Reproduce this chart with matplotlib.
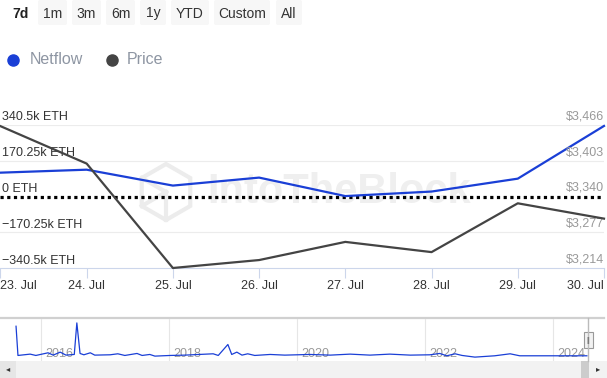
import numpy as np
import matplotlib
matplotlib.use('Agg')
import matplotlib.pyplot as plt
from matplotlib.patches import FancyBboxPatch, Rectangle, RegularPolygon

plt.rcParams['font.family'] = ['Liberation Sans', 'DejaVu Sans']

# 数据
days = ['23. Jul', '24. Jul', '25. Jul', '26. Jul', '27. Jul', '28. Jul', '29. Jul', '30. Jul']
netflow = [113500, 127700, 52000, 90000, 2000, 23600, 85000, 336000]
price = [3464, 3398, 3214, 3228, 3260, 3242, 3328, 3301]

flow_ticks = [-340500, -170250, 0, 170250, 340500]
flow_labels = ['\u2212340.5k ETH', '\u2212170.25k ETH', '0 ETH', '170.25k ETH', '340.5k ETH']
price_ticks = [3214, 3277, 3340, 3403, 3466]
price_labels = ['$3,214', '$3,277', '$3,340', '$3,403', '$3,466']

buttons = ['7d', '1m', '3m', '6m', '1y', 'YTD', 'Custom', 'All']

# 导航条（全历史）
nav_x = [2015.61, 2015.64, 2015.83, 2015.92, 2016.11, 2016.19, 2016.30, 2016.39, 2016.52, 2016.56,
         2016.61, 2016.67, 2016.77, 2016.84, 2017.08, 2017.20, 2017.31, 2017.50, 2017.58, 2017.70,
         2017.78, 2018.02, 2018.25, 2018.69, 2018.77, 2018.92, 2018.98, 2019.06, 2019.14, 2019.23,
         2019.34, 2019.58, 2019.81, 2020.20, 2020.52, 2020.83, 2021.14, 2021.45, 2021.77, 2022.08,
         2022.23, 2022.34, 2022.47, 2022.58, 2022.78, 2023.09, 2023.33, 2023.48, 2024.11, 2024.53]
nav_y = [90, 2, 6, 2, 10, 3, 12, 3, 5, 100,
         8, 4, 10, 3, 4, 7, 2, 8, 2, 5,
         0, 2, 3, 7, 2, 35, 5, 12, 3, 7,
         2, 5, 3, 5, 3, 6, 3, 6, 3, 4,
         8, 1, 7, 2, -3, 1, 7, 1, 1, 1]
nav_years = [2016, 2018, 2020, 2022, 2024]

W, H = 607, 378
fig = plt.figure(figsize=(W / 100, H / 100), dpi=100)


def box(l, t, r, b):
    return [l / W, 1 - b / H, (r - l) / W, (b - t) / H]


blue = '#1a3fd6'
dark = '#444444'

# 像素坐标的装饰层（按钮、图例、水印、滚动条）
deco = fig.add_axes([0, 0, 1, 1])
deco.set_xlim(0, W)
deco.set_ylim(H, 0)
deco.axis('off')

btn_pos = [(8, 34), (38, 67), (72, 101), (106, 135), (140, 166), (171, 209), (214, 270), (276, 302)]
for name, (l, r) in zip(buttons, btn_pos):
    if name != '7d':
        deco.add_patch(FancyBboxPatch((l, 0), r - l, 25, boxstyle='round,pad=0,rounding_size=2',
                                      fc='#f7f7f7', ec='none'))
    deco.text((l + r) / 2, 13.5, name, ha='center', va='center', fontsize=10,
              color='#222222' if name == '7d' else '#333333',
              fontweight='bold' if name == '7d' else 'normal')

# 图例
deco.plot([13], [60], 'o', ms=8, color=blue)
deco.text(30, 60, 'Netflow', fontsize=11.5, color='#8e96a3', va='center')
deco.plot([112], [60], 'o', ms=8, color=dark)
deco.text(127, 60, 'Price', fontsize=11.5, color='#8e96a3', va='center')

# 水印
deco.text(207, 192, 'IntoTheBlock', fontsize=30, fontweight='bold', color='#efefef',
          va='center', ha='left', zorder=0)
cx, cy, rr = 166, 192, 28
deco.add_patch(RegularPolygon((cx, cy), 6, radius=rr, fill=False, ec='#ececec', lw=3, orientation=0))
for ang in [np.pi / 2 + np.pi / 3, np.pi / 2 - np.pi / 3 + np.pi, np.pi / 2 + np.pi]:
    deco.plot([cx, cx + rr * np.cos(ang)], [cy, cy - rr * np.sin(ang)], color='#ececec', lw=3)

# 滚动条
deco.add_patch(Rectangle((0, 361), W, 17, fc='#f2f2f2', ec='none'))
deco.add_patch(Rectangle((0, 361), 16, 17, fc='#e6e6e6', ec='none'))
deco.add_patch(Rectangle((581, 361), 8, 17, fc='#cccccc', ec='none'))
deco.text(8, 369.5, '\u25c2', fontsize=6, color='#333333', ha='center', va='center')
deco.text(598, 369.5, '\u25b8', fontsize=6, color='#333333', ha='center', va='center')
deco.plot([0, 604], [318, 318], color='#d0d0d0', lw=1.6)

# 主图
ax = fig.add_axes(box(0, 125, 604, 268))
ax.patch.set_alpha(0)
x = np.arange(len(days))
ax.set_xlim(-0.005, 7)
ax.set_ylim(flow_ticks[0], flow_ticks[-1])
for s in ['top', 'left', 'right']:
    ax.spines[s].set_visible(False)
ax.spines['bottom'].set_color('#ccd6eb')
ax.set_yticks([])
for t in flow_ticks[1:]:
    if t != 0:
        ax.axhline(t, color='#ececec', lw=0.8, zorder=0)
ax.axhline(0, color='black', lw=2.3, ls=(0, (1, 1.1)), zorder=3)

for t, lab in zip(flow_ticks, flow_labels):
    ax.annotate(lab, (0, t), xycoords=('axes fraction', 'data'), xytext=(2, 1.5),
                textcoords='offset pixels', fontsize=9, color='#333333', va='bottom', ha='left')

ax.plot(x, netflow, color=blue, lw=1.6, zorder=4, clip_on=False)

ax2 = ax.twinx()
ax2.set_ylim(price_ticks[0], price_ticks[-1])
ax2.axis('off')
for t, lab in zip(price_ticks, price_labels):
    ax2.annotate(lab, (1, t), xycoords=('axes fraction', 'data'), xytext=(0, 2.5),
                 textcoords='offset pixels', fontsize=9, color='#999999', va='bottom', ha='right',
                 zorder=1)
ax2.plot(x, price, color=dark, lw=1.6, zorder=4, clip_on=False)

ax.set_xticks(x)
ax.set_xticklabels(days)
ax.tick_params(axis='x', length=7, color='#ccd6eb', labelsize=9, labelcolor='#333333', pad=1.5)
labs = ax.get_xticklabels()
labs[0].set_ha('left')
labs[-1].set_ha('right')

# 导航条
nav = fig.add_axes(box(0, 319, 607, 361))
nav.patch.set_alpha(0)
nav.set_xlim(2016 - 41 / 64, 2016 + 566 / 64)
nav.set_ylim(-14.7, 111.8)
for s in nav.spines.values():
    s.set_visible(False)
nav.set_xticks([])
nav.set_yticks([])
for yr in nav_years:
    nav.axvline(yr, color='#e6e6e6', lw=0.8, zorder=0)
    nav.annotate(str(yr), (yr, 0), xycoords=('data', 'axes fraction'), xytext=(4, 4),
                 textcoords='offset pixels', fontsize=9, color='#999999', zorder=1)
nav.plot(nav_x, nav_y, color=blue, lw=0.9, zorder=2)

# 导航手柄
deco2 = fig.add_axes([0, 0, 1, 1])
deco2.set_xlim(0, W)
deco2.set_ylim(H, 0)
deco2.axis('off')
deco2.plot([588, 588], [318, 361], color='#bbbbbb', lw=1)
deco2.add_patch(Rectangle((583.5, 332), 9, 16, fc='#f2f2f2', ec='#999999', lw=0.8))
deco2.text(588, 340, '||', fontsize=5, color='#666666', ha='center', va='center')

plt.savefig('out.png', dpi=100)
